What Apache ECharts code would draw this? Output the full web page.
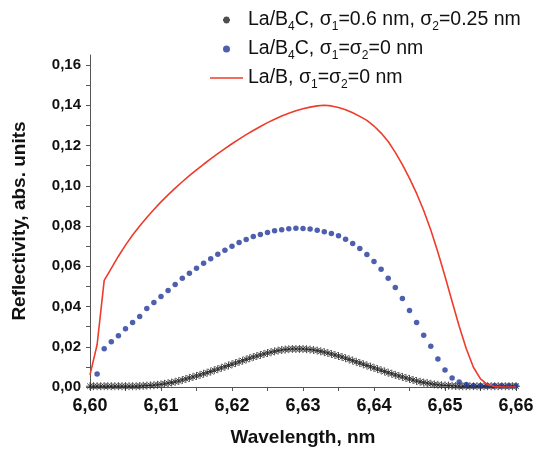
<!DOCTYPE html>
<html>
<head>
<meta charset="utf-8">
<script src="https://cdn.jsdelivr.net/npm/echarts@6/dist/echarts.min.js"></script>
<style>
  html, body { margin: 0; padding: 0; background: #fff; }
  #chart { width: 537px; height: 452px; }
</style>
</head>
<body>
<div id="chart"></div>
<script>
// wavelength grid (nm) of the fine (asterisk) series
const wlFine = [
  6.6000, 6.6005, 6.6010, 6.6015, 6.6020, 6.6025, 6.6030, 6.6035, 6.6040, 6.6045,
  6.6050, 6.6055, 6.6060, 6.6065, 6.6070, 6.6075, 6.6080, 6.6085, 6.6090, 6.6095,
  6.6100, 6.6105, 6.6110, 6.6115, 6.6120, 6.6125, 6.6130, 6.6135, 6.6140, 6.6145,
  6.6150, 6.6155, 6.6160, 6.6165, 6.6170, 6.6175, 6.6180, 6.6185, 6.6190, 6.6195,
  6.6200, 6.6205, 6.6210, 6.6215, 6.6220, 6.6225, 6.6230, 6.6235, 6.6240, 6.6245,
  6.6250, 6.6255, 6.6260, 6.6265, 6.6270, 6.6275, 6.6280, 6.6285, 6.6290, 6.6295,
  6.6300, 6.6305, 6.6310, 6.6315, 6.6320, 6.6325, 6.6330, 6.6335, 6.6340, 6.6345,
  6.6350, 6.6355, 6.6360, 6.6365, 6.6370, 6.6375, 6.6380, 6.6385, 6.6390, 6.6395,
  6.6400, 6.6405, 6.6410, 6.6415, 6.6420, 6.6425, 6.6430, 6.6435, 6.6440, 6.6445,
  6.6450, 6.6455, 6.6460, 6.6465, 6.6470, 6.6475, 6.6480, 6.6485, 6.6490, 6.6495,
  6.6500, 6.6505, 6.6510, 6.6515, 6.6520, 6.6525, 6.6530, 6.6535, 6.6540, 6.6545,
  6.6550, 6.6555, 6.6560, 6.6565, 6.6570, 6.6575, 6.6580, 6.6585, 6.6590, 6.6595,
  6.6600
]
// La/B4C, sigma1=0.6 nm, sigma2=0.25 nm
const rough = [
  0.0004, 0.0004, 0.0004, 0.0004, 0.0004, 0.0004, 0.0004, 0.0004, 0.0004, 0.0004,
  0.0004, 0.0004, 0.0004, 0.0004, 0.0005, 0.0006, 0.0007, 0.0008, 0.0009, 0.0011,
  0.0013, 0.0016, 0.0019, 0.0022, 0.0026, 0.0030, 0.0035, 0.0040, 0.0045, 0.0050,
  0.0055, 0.0060, 0.0066, 0.0071, 0.0077, 0.0083, 0.0089, 0.0095, 0.0101, 0.0107,
  0.0113, 0.0119, 0.0125, 0.0131, 0.0137, 0.0143, 0.0149, 0.0154, 0.0159, 0.0164,
  0.0169, 0.0173, 0.0177, 0.0181, 0.0184, 0.0186, 0.0188, 0.0189, 0.0189, 0.0189,
  0.0189, 0.0188, 0.0186, 0.0184, 0.0181, 0.0177, 0.0173, 0.0169, 0.0164, 0.0159,
  0.0154, 0.0149, 0.0143, 0.0137, 0.0131, 0.0125, 0.0119, 0.0113, 0.0107, 0.0101,
  0.0095, 0.0089, 0.0083, 0.0077, 0.0071, 0.0066, 0.0060, 0.0055, 0.0050, 0.0045,
  0.0040, 0.0035, 0.0030, 0.0026, 0.0022, 0.0019, 0.0016, 0.0013, 0.0011, 0.0009,
  0.0008, 0.0007, 0.0006, 0.0005, 0.0004, 0.0004, 0.0004, 0.0004, 0.0004, 0.0004,
  0.0004, 0.0004, 0.0004, 0.0004, 0.0004, 0.0004, 0.0004, 0.0004, 0.0004, 0.0004,
  0.0004
]

// wavelength grid (nm) of the coarse series
const wlCoarse = [
  6.600, 6.601, 6.602, 6.603, 6.604, 6.605, 6.606, 6.607, 6.608, 6.609,
  6.610, 6.611, 6.612, 6.613, 6.614, 6.615, 6.616, 6.617, 6.618, 6.619,
  6.620, 6.621, 6.622, 6.623, 6.624, 6.625, 6.626, 6.627, 6.628, 6.629,
  6.630, 6.631, 6.632, 6.633, 6.634, 6.635, 6.636, 6.637, 6.638, 6.639,
  6.640, 6.641, 6.642, 6.643, 6.644, 6.645, 6.646, 6.647, 6.648, 6.649,
  6.650, 6.651, 6.652, 6.653, 6.654, 6.655, 6.656, 6.657, 6.658, 6.659,
  6.660
]
// La/B4C, sigma1=sigma2=0 nm
const ideal = [
  null, 0.0065, 0.0190, 0.0225, 0.0255, 0.0290, 0.0320, 0.0350, 0.0390, 0.0420,
  0.0450, 0.0480, 0.0510, 0.0540, 0.0565, 0.0590, 0.0615, 0.0638, 0.0660, 0.0680,
  0.0700, 0.0718, 0.0733, 0.0748, 0.0758, 0.0768, 0.0776, 0.0782, 0.0786, 0.0789,
  0.0788, 0.0785, 0.0779, 0.0772, 0.0763, 0.0752, 0.0734, 0.0713, 0.0688, 0.0659,
  0.0624, 0.0585, 0.0540, 0.0495, 0.0440, 0.0380, 0.0320, 0.0257, 0.0203, 0.0139,
  0.0084, 0.0045, 0.0025, 0.0012, 0.0006, 0.0006, 0.0006, 0.0006, 0.0006, 0.0006,
  0.0006
]
// La/B, sigma1=sigma2=0 nm
const laB = [
  0.0060, 0.0210, 0.0530, 0.0590, 0.0650, 0.0705, 0.0755, 0.0800, 0.0842, 0.0882,
  0.0920, 0.0955, 0.0988, 0.1020, 0.1050, 0.1079, 0.1107, 0.1134, 0.1160, 0.1185,
  0.1209, 0.1232, 0.1254, 0.1275, 0.1295, 0.1314, 0.1331, 0.1347, 0.1361, 0.1373,
  0.1383, 0.1391, 0.1397, 0.1400, 0.1397, 0.1389, 0.1378, 0.1363, 0.1345, 0.1325,
  0.1297, 0.1262, 0.1220, 0.1166, 0.1105, 0.1037, 0.0962, 0.0877, 0.0780, 0.0670,
  0.0550, 0.0425, 0.0302, 0.0190, 0.0098, 0.0040, 0.0012, 0.0002, 0, 0,
  0
]

const xLabels = [6.60, 6.61, 6.62, 6.63, 6.64, 6.65, 6.66]
const xTicks = [6.600, 6.605, 6.610, 6.615, 6.620, 6.625, 6.630, 6.635, 6.640, 6.645, 6.650, 6.655, 6.660]
const yLabels = [0, 0.02, 0.04, 0.06, 0.08, 0.10, 0.12, 0.14, 0.16]
const yTicks = [0, 0.01, 0.02, 0.03, 0.04, 0.05, 0.06, 0.07, 0.08, 0.09, 0.10, 0.11, 0.12, 0.13, 0.14, 0.15, 0.16]

const names = ['La/B4C, σ1=0.6 nm, σ2=0.25 nm', 'La/B4C, σ1=σ2=0 nm', 'La/B, σ1=σ2=0 nm']
// legend text with subscripts
const legendRich = {
  [names[0]]: '{n|La/B}{s|4}{n|C, σ}{s|1}{n|=0.6 nm, σ}{s|2}{n|=0.25 nm}',
  [names[1]]: '{n|La/B}{s|4}{n|C, σ}{s|1}{n|=σ}{s|2}{n|=0 nm}',
  [names[2]]: '{n|La/B, σ}{s|1}{n|=σ}{s|2}{n|=0 nm}'
}

const FONT = 'Liberation Sans, Arial, sans-serif'
const asterisk = 'path://M0,-5L0,5M-5,0L5,0M-3.5,-3.5L3.5,3.5M-3.5,3.5L3.5,-3.5'
const dash = 'path://M0,0L33,0L33,1.6L0,1.6Z'

function pairs(xs, ys) {
  const out = []
  for (let i = 0; i < xs.length; i++) {
    if (ys[i] !== null) out.push([xs[i], ys[i]])
  }
  return out
}
const comma = v => v.toFixed(2).replace('.', ',')

const chart = echarts.init(document.getElementById('chart'))
chart.setOption({
  animation: false,
  backgroundColor: '#fff',
  grid: { left: 90, right: 21, top: 55, bottom: 63 },
  legend: {
    orient: 'vertical',
    left: 205,
    top: 5,
    itemWidth: 33,
    itemHeight: 7,
    itemGap: 6,
    data: [
      { name: names[0], icon: asterisk },
      { name: names[1], icon: 'circle' },
      { name: names[2], icon: dash }
    ],
    formatter: name => legendRich[name],
    textStyle: {
      rich: {
        n: { fontFamily: FONT, fontSize: 19.5, color: '#111', lineHeight: 26 },
        s: { fontFamily: FONT, fontSize: 12, color: '#111', lineHeight: 12, verticalAlign: 'bottom' }
      }
    }
  },
  xAxis: {
    type: 'value',
    min: 6.6,
    max: 6.66,
    name: 'Wavelength, nm',
    nameLocation: 'middle',
    nameGap: 41,
    nameTextStyle: { fontFamily: FONT, fontSize: 19, fontWeight: 'bold', color: '#111' },
    axisLine: { show: true, lineStyle: { color: '#555', width: 1 } },
    axisTick: { show: true, length: 4, customValues: xTicks, lineStyle: { color: '#555' } },
    axisLabel: {
      customValues: xLabels,
      formatter: comma,
      margin: 10,
      fontFamily: FONT, fontSize: 18, fontWeight: 'bold', color: '#111'
    },
    splitLine: { show: false }
  },
  yAxis: {
    type: 'value',
    min: 0,
    max: 0.165,
    name: 'Reflectivity, abs. units',
    nameLocation: 'middle',
    nameGap: 61,
    nameTextStyle: { fontFamily: FONT, fontSize: 19, fontWeight: 'bold', color: '#111' },
    axisLine: { show: true, lineStyle: { color: '#555', width: 1 } },
    axisTick: { show: true, length: 4, customValues: yTicks, lineStyle: { color: '#555' } },
    axisLabel: {
      customValues: yLabels,
      formatter: comma,
      margin: 9,
      fontFamily: FONT, fontSize: 15, fontWeight: 'bold', color: '#111'
    },
    splitLine: { show: false }
  },
  series: [
    {
      name: names[0],
      type: 'scatter',
      data: pairs(wlFine, rough),
      symbol: asterisk,
      symbolSize: 8,
      itemStyle: { color: '#222', borderColor: '#222', borderWidth: 1 }
    },
    {
      name: names[1],
      type: 'scatter',
      data: pairs(wlCoarse, ideal),
      symbol: 'circle',
      symbolSize: 5.5,
      itemStyle: { color: '#22379a' }
    },
    {
      name: names[2],
      type: 'line',
      data: pairs(wlCoarse, laB),
      symbol: 'none',
      lineStyle: { color: '#ee3b2a', width: 1.6 },
      itemStyle: { color: '#ee3b2a' }
    }
  ]
})
</script>
</body>
</html>
